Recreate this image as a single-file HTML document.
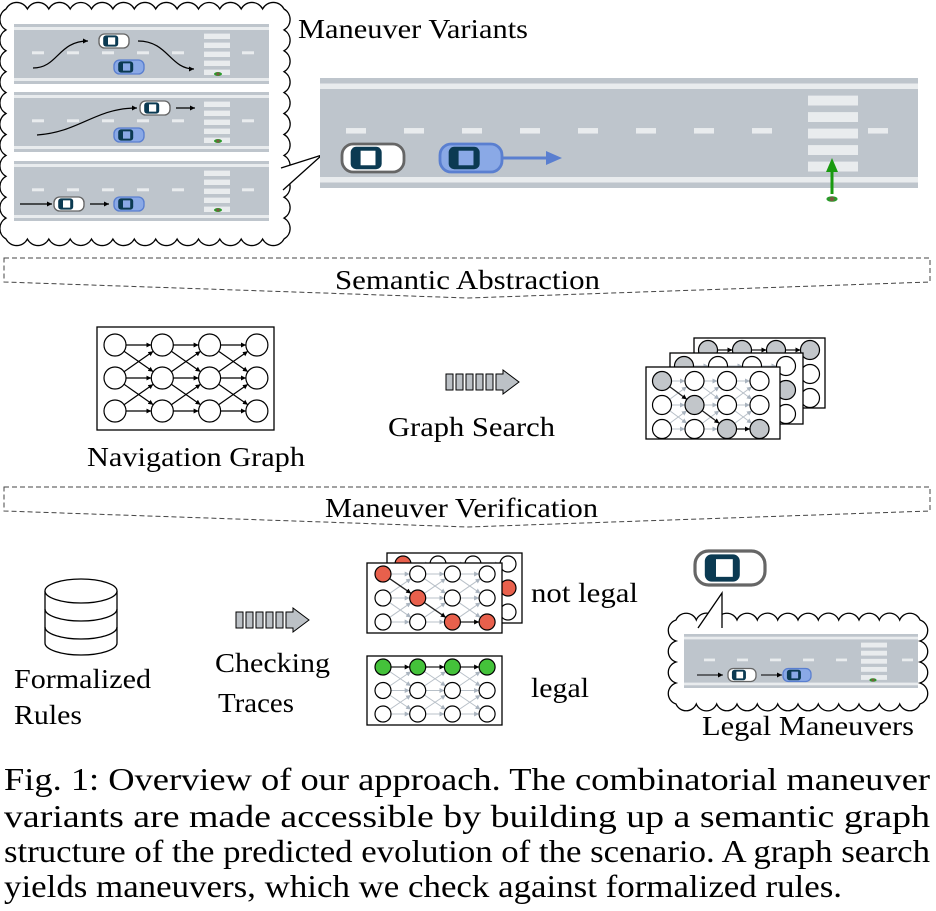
<!DOCTYPE html>
<html><head><meta charset="utf-8"><style>
html,body{margin:0;padding:0;background:#fff;}
svg{display:block;}
text{font-family:"Liberation Serif","Times New Roman",serif;fill:#000;}
</style></head><body>
<svg id="s" width="936" height="911" viewBox="0 0 936 911" xmlns="http://www.w3.org/2000/svg">
<defs>
<marker id="ah" markerWidth="8" markerHeight="8" refX="7" refY="4" orient="auto" markerUnits="userSpaceOnUse"><path d="M0,1 L7,4 L0,7 Z" fill="#000"/></marker>
<marker id="ahs" markerWidth="6" markerHeight="6" refX="5" refY="3" orient="auto" markerUnits="userSpaceOnUse"><path d="M0,0.5 L5,3 L0,5.5 Z" fill="#000"/></marker>
<marker id="ahg" markerWidth="6" markerHeight="6" refX="5" refY="3" orient="auto" markerUnits="userSpaceOnUse"><path d="M0,0.5 L5,3 L0,5.5 Z" fill="#aab4bf"/></marker>
</defs>
<g id="dyn"></g>
<g font-family="Liberation Serif, serif">
<text x="298" y="38" font-size="27" textLength="230" lengthAdjust="spacingAndGlyphs">Maneuver Variants</text>
<text x="335" y="289" font-size="27" textLength="265" lengthAdjust="spacingAndGlyphs">Semantic Abstraction</text>
<text x="87" y="466" font-size="27" textLength="218" lengthAdjust="spacingAndGlyphs">Navigation Graph</text>
<text x="388" y="436" font-size="27" textLength="167" lengthAdjust="spacingAndGlyphs">Graph Search</text>
<text x="325" y="517" font-size="27" textLength="273" lengthAdjust="spacingAndGlyphs">Maneuver Verification</text>
<text x="14" y="688" font-size="27" textLength="137" lengthAdjust="spacingAndGlyphs">Formalized</text>
<text x="14" y="724" font-size="27" textLength="68" lengthAdjust="spacingAndGlyphs">Rules</text>
<text x="215" y="672" font-size="27" textLength="115" lengthAdjust="spacingAndGlyphs">Checking</text>
<text x="218" y="712" font-size="27" textLength="76" lengthAdjust="spacingAndGlyphs">Traces</text>
<text x="531" y="602" font-size="27" textLength="107" lengthAdjust="spacingAndGlyphs">not legal</text>
<text x="531" y="697" font-size="27" textLength="58" lengthAdjust="spacingAndGlyphs">legal</text>
<text x="702" y="735" font-size="27" textLength="212" lengthAdjust="spacingAndGlyphs">Legal Maneuvers</text>
<text x="4" y="790" font-size="32" textLength="926" lengthAdjust="spacingAndGlyphs">Fig. 1: Overview of our approach. The combinatorial maneuver</text>
<text x="4" y="827" font-size="32" textLength="926" lengthAdjust="spacingAndGlyphs">variants are made accessible by building up a semantic graph</text>
<text x="4" y="862" font-size="32" textLength="926" lengthAdjust="spacingAndGlyphs">structure of the predicted evolution of the scenario. A graph search</text>
<text x="4" y="897" font-size="32" textLength="838" lengthAdjust="spacingAndGlyphs">yields maneuvers, which we check against formalized rules.</text>
</g>
</svg>
<script>
var o='';
function cloud(x,y,w,h,r){
  var pts=[],n;
  n=Math.round(w/(r*1.8));for(var i=0;i<n;i++)pts.push([x+w*i/n,y]);
  n=Math.round(h/(r*1.8));for(var i=0;i<n;i++)pts.push([x+w,y+h*i/n]);
  n=Math.round(w/(r*1.8));for(var i=0;i<n;i++)pts.push([x+w-w*i/n,y+h]);
  n=Math.round(h/(r*1.8));for(var i=0;i<n;i++)pts.push([x,y+h-h*i/n]);
  var d='M'+pts[0][0]+','+pts[0][1];
  for(var i=1;i<=pts.length;i++){var p=pts[i%pts.length];d+=' A'+r+','+r+' 0 0 1 '+p[0].toFixed(1)+','+p[1].toFixed(1);}
  o+='<path d="'+d+' Z" fill="#fff" stroke="#000" stroke-width="1.3"/>';
}
function tail(a,b,c){
  o+='<polygon points="'+a+' '+b+' '+c+'" fill="#fff"/>';
  o+='<polyline points="'+a+' '+b+' '+c+'" fill="none" stroke="#000" stroke-width="1.3"/>';
}
function car(cx,cy,L,W,blue){
  var body=blue?'#8aa9e6':'#fff',st=blue?'#5a7fd0':'#666',sw=L/22;
  o+='<rect x="'+(cx-L/2)+'" y="'+(cy-W/2)+'" width="'+L+'" height="'+W+'" rx="'+W*0.4+'" fill="'+body+'" stroke="'+st+'" stroke-width="'+sw+'"/>';
  o+='<rect x="'+(cx-L*0.36)+'" y="'+(cy-W*0.4)+'" width="'+L*0.5+'" height="'+W*0.8+'" rx="'+W*0.2+'" fill="#0b3a52"/>';
  o+='<rect x="'+(cx-L*0.2)+'" y="'+(cy-W*0.26)+'" width="'+L*0.24+'" height="'+W*0.52+'" fill="'+(blue?'#8aa9e6':'#fff')+'"/>';
}
function road(x,y,w,h,cw,dash,per,start){
  o+='<rect x="'+x+'" y="'+y+'" width="'+w+'" height="'+h+'" fill="#bec5cc"/>';
  var lt=Math.max(2,h*0.05);
  o+='<rect x="'+x+'" y="'+(y+h*0.05)+'" width="'+w+'" height="'+lt+'" fill="#e9ecee"/>';
  o+='<rect x="'+x+'" y="'+(y+h*0.9)+'" width="'+w+'" height="'+lt+'" fill="#e9ecee"/>';
  var my=y+h*0.48;
  for(var dx=x+start;dx<x+w-dash;dx+=per){ if(dx+dash>cw[0]-4&&dx<cw[0]+cw[1]+4)continue;
    o+='<rect x="'+dx+'" y="'+(my-lt/2)+'" width="'+dash+'" height="'+lt+'" fill="#e9ecee"/>';}
  for(var k=0;k<5;k++){o+='<rect x="'+cw[0]+'" y="'+(y+h*0.16+k*h*0.15)+'" width="'+cw[1]+'" height="'+h*0.09+'" fill="#e9ecee"/>';}
}
function ped(cx,cy,s){o+='<ellipse cx="'+cx+'" cy="'+cy+'" rx="'+4*s+'" ry="'+2*s+'" fill="#2a9a2a"/><circle cx="'+cx+'" cy="'+cy+'" r="'+1.6*s+'" fill="#7a5a40"/>';}
function ln(x1,y1,x2,y2,col,w,m){o+='<line x1="'+x1+'" y1="'+y1+'" x2="'+x2+'" y2="'+y2+'" stroke="'+col+'" stroke-width="'+w+'"'+(m?' marker-end="url(#'+m+')"':'')+'/>';}
cloud(6,9,278,230,12);
tail('281,168','322,155','283,190');
road(14,24,255,60,[204,26],12,35,18); road(14,92,255,60,[204,26],12,35,18); road(14,161,255,60,[204,26],12,35,18);
ped(218,74,1);ped(218,141,1);ped(218,210,1);
o+='<path d="M33,68 C58,68 58,41 88,41" fill="none" stroke="#000" stroke-width="1.2" marker-end="url(#ahs)"/>';
o+='<path d="M138,41 C168,41 170,69 194,69" fill="none" stroke="#000" stroke-width="1.2" marker-end="url(#ahs)"/>';
car(114,41,30,14,false);car(129,67,30,14,true);
o+='<path d="M37,135 C80,132 95,108 137,108" fill="none" stroke="#000" stroke-width="1.2" marker-end="url(#ahs)"/>';
ln(176,108,195,108,'#000',1.2,'ahs');
car(155,108,30,14,false);car(129,135,30,14,true);
ln(20,204,52,204,'#000',1.2,'ahs');ln(90,204,109,204,'#000',1.2,'ahs');
car(69,204,30,14,false);car(129,204,30,14,true);
road(320,78,598,110,[808,50],20,58,26);
car(373,158,62,28,false);car(471,158,62,28,true);
o+='<line x1="502" y1="158" x2="548" y2="158" stroke="#5a7fd0" stroke-width="3"/><polygon points="546,151 562,158 546,165" fill="#5a7fd0"/>';
o+='<line x1="832" y1="194" x2="832" y2="170" stroke="#1a9a10" stroke-width="3"/><polygon points="826,172 832,158 838,172" fill="#1a9a10"/>';
ped(832,199,1.4);
o+='<polygon points="4,258 930,258 930,282 468,298 4,282" fill="none" stroke="#444" stroke-width="1" stroke-dasharray="5,3"/>';
o+='<polygon points="4,487 930,487 930,511 468,527 4,511" fill="none" stroke="#444" stroke-width="1" stroke-dasharray="5,3"/>';
function graph(bx,by,bw,bh,x0,y0,dx,dy,r,mode,hl,fills){
  o+='<rect x="'+bx+'" y="'+by+'" width="'+bw+'" height="'+bh+'" fill="#fff" stroke="#000" stroke-width="1.3"/>';
  var P=function(c,rw){return [x0+c*dx,y0+rw*dy];};
  for(var c=0;c<3;c++)for(var a=0;a<3;a++)for(var b=a-1;b<=a+1;b++){if(b<0||b>2)continue;
    var p=P(c,a),q=P(c+1,b),vx=q[0]-p[0],vy=q[1]-p[1],L=Math.hypot(vx,vy);
    var x1=p[0]+vx/L*r,y1=p[1]+vy/L*r,x2=q[0]-vx/L*r,y2=q[1]-vy/L*r;
    var isH=hl.some(function(e){return e[0]==c&&e[1]==a&&e[2]==b;});
    if(mode=='nav')ln(x1,y1,x2,y2,'#000',1.2,'ahs');
    else if(!isH)ln(x1,y1,x2,y2,'#b8c0c8',1,'ahg');
  }
  hl.forEach(function(e){var p=P(e[0],e[1]),q=P(e[0]+1,e[2]),vx=q[0]-p[0],vy=q[1]-p[1],L=Math.hypot(vx,vy);
    ln(p[0]+vx/L*r,p[1]+vy/L*r,q[0]-vx/L*r,q[1]-vy/L*r,'#222',1.3,'ahs');});
  for(var c=0;c<4;c++)for(var a=0;a<3;a++){var p=P(c,a),f=(fills[c+','+a])||'#fff';
    o+='<circle cx="'+p[0]+'" cy="'+p[1]+'" r="'+r+'" fill="'+f+'" stroke="#000" stroke-width="1.2"/>';}
}
graph(97,327,177,103,115,345,47.3,33,11,'nav',[],{});
var G='#c2c6ca';
graph(694,338,131,70,708,350,34,24,9.5,'g',[[0,0,0],[1,0,0],[2,0,0]],{'0,0':G,'1,0':G,'2,0':G,'3,0':G});
graph(670,353,133,71,684,366,34,24,9.5,'g',[],{'0,0':G,'3,1':G});
graph(646,367,134,72,662,381,32.5,24,9.5,'g',[[0,0,1],[1,1,2],[2,2,2]],{'0,0':G,'1,1':G,'2,2':G,'3,2':G});
var R='#e8604c',Gr='#44c23a';
graph(387,553,135,70,403,564,35,24,8,'g',[],{'0,0':R,'3,1':R});
graph(367,563,135,70,383,574,34.7,24,8,'g',[[0,0,1],[1,1,2],[2,2,2]],{'0,0':R,'1,1':R,'2,2':R,'3,2':R});
graph(367,656,135,69,383,667,34.7,23.5,8,'g',[[0,0,0],[1,0,0],[2,0,0]],{'0,0':Gr,'1,0':Gr,'2,0':Gr,'3,0':Gr});
function bigArrow(x,y){
  for(var i=0;i<5;i++)o+='<rect x="'+(x+i*10)+'" y="'+(y+4)+'" width="7" height="16" fill="#bcc1c6" stroke="#000" stroke-width="1"/>';
  o+='<polygon points="'+(x+50)+','+(y+4)+' '+(x+57)+','+(y+4)+' '+(x+57)+','+y+' '+(x+73)+','+(y+12)+' '+(x+57)+','+(y+24)+' '+(x+57)+','+(y+20)+' '+(x+50)+','+(y+20)+'" fill="#bcc1c6" stroke="#000" stroke-width="1"/>';
}
bigArrow(446,370);bigArrow(236,608);
o+='<g fill="#fff" stroke="#000" stroke-width="1.3"><path d="M45,591 L45,643 A36,12 0 0 0 117,643 L117,591"/><ellipse cx="81" cy="591" rx="36" ry="12"/><path d="M45,609 A36,12 0 0 0 117,609" fill="none"/><path d="M45,627 A36,12 0 0 0 117,627" fill="none"/></g>';
car(730,568,70,34,false);
cloud(676,620,244,84,11);
tail('698,628','722,593','722,628');
road(684,634,234,54,[861,26],11,33,20);
ln(697,675,723,675,'#000',1.1,'ahs');ln(761,675,782,675,'#000',1.1,'ahs');
car(742,675,28,13,false);car(797,675,28,13,true);ped(873,680,0.9);
document.getElementById('dyn').innerHTML=o;
</script>
</body></html>
